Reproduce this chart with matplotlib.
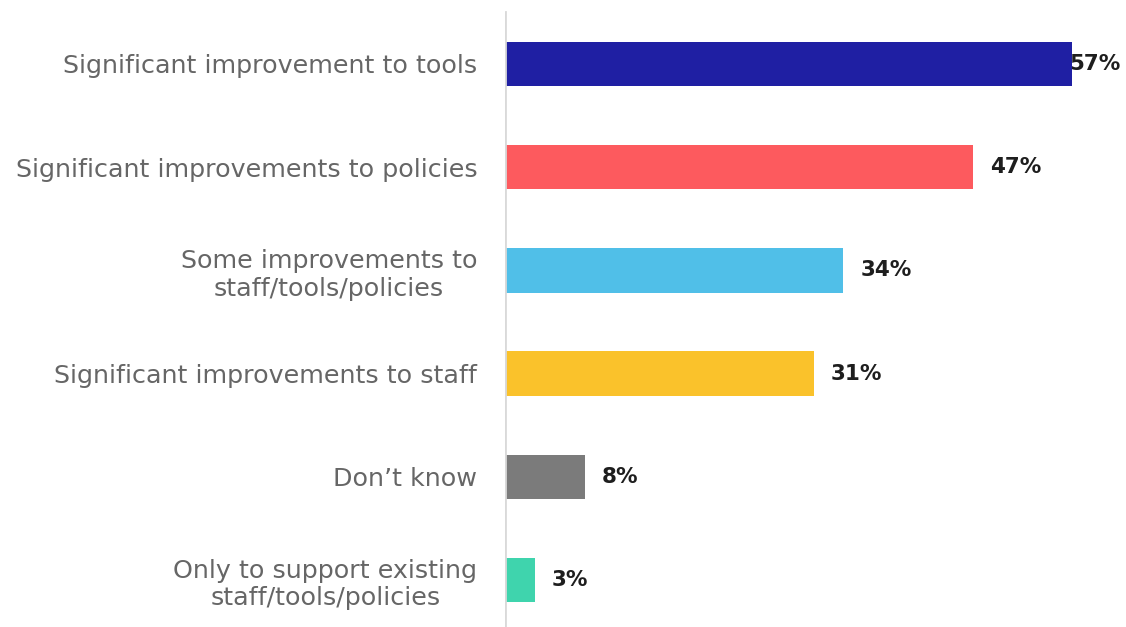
import matplotlib.pyplot as plt

categories = [
    "Significant improvement to tools",
    "Significant improvements to policies",
    "Some improvements to\nstaff/tools/policies",
    "Significant improvements to staff",
    "Don\u2019t know",
    "Only to support existing\nstaff/tools/policies",
]
values = [57, 47, 34, 31, 8, 3]
colors = ["#1f1fa3", "#fd5a5e", "#50bfe8", "#fac22b", "#7b7b7b", "#3fd4ad"]

plt.rcParams['font.family'] = ['DejaVu Sans']

fig = plt.figure(figsize=(11.26, 6.27), dpi=100)
ax = fig.add_axes([505 / 1126, 0, 1 - 505 / 1126, 1])

ypos = list(range(len(values)))
ax.barh(ypos, values, height=0.43, color=colors, zorder=3)

ax.set_xlim(0, 62.4)
ax.set_ylim(5.455, -0.62)

for y, v in zip(ypos, values):
    off = -0.3 if v > 55 else 1.7
    ax.text(v + off, y, f"{v}%", va='center', ha='left', fontsize=15.5,
            fontweight='bold', color='#1e1e1e', zorder=2)

ax.set_yticks(ypos)
ax.set_yticklabels(categories, fontsize=18.3, color='#666666',
                   multialignment='center', linespacing=1.2)
ax.tick_params(axis='y', length=0, pad=20)
ax.set_xticks([])
for s in ax.spines.values():
    s.set_visible(False)
ax.axvline(0, ymin=0, ymax=1 - 12 / 627, color='#d9d9d9', lw=2, zorder=4)

fig.savefig("out.png", dpi=100)
